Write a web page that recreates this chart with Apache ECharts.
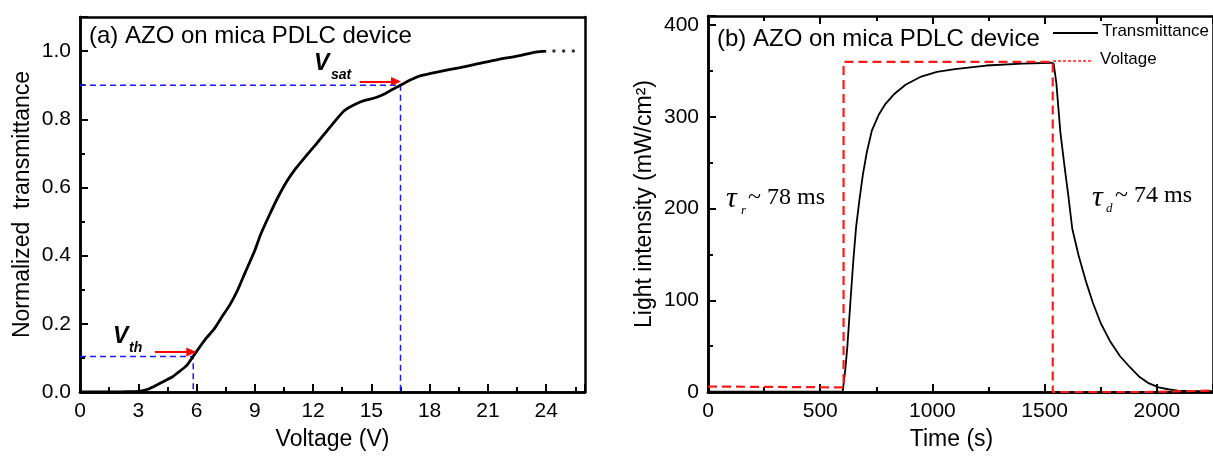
<!DOCTYPE html>
<html>
<head>
<meta charset="utf-8">
<title>AZO on mica PDLC device</title>
<script src="https://cdn.jsdelivr.net/npm/echarts@6/dist/echarts.min.js"></script>
<style>
  html, body { margin: 0; padding: 0; background: #fff; }
  #chart { width: 1213px; height: 456px; }
</style>
</head>
<body>
<div id="chart"></div>
<script>
// (a) voltage vs normalized transmittance
const voltage = [0, 1, 2, 2.5, 3, 3.5, 3.76, 4, 4.5, 4.75, 5, 5.5, 5.83, 6.2, 6.5, 6.91, 7.3, 7.7, 8.1, 8.5,
  9, 9.3, 9.8, 10.2, 10.65, 11.1, 11.6, 12.2, 12.8, 13.6, 14.2, 14.7, 15.2, 15.7, 16.1, 16.5, 17, 17.55,
  18.5, 19.5, 20.5, 21.5, 22.5, 23.46, 24];
const normTrans = [0, 0, 0, 0.001, 0.002, 0.008, 0.015, 0.022, 0.037, 0.044, 0.055, 0.078, 0.105, 0.135, 0.158, 0.185, 0.22, 0.254, 0.297, 0.35,
  0.415, 0.462, 0.525, 0.572, 0.618, 0.655, 0.69, 0.73, 0.772, 0.825, 0.845, 0.856, 0.863, 0.875, 0.888, 0.9, 0.915, 0.928,
  0.94, 0.951, 0.963, 0.975, 0.985, 0.997, 1.0];
const tailVoltage = [24.4, 24.9, 25.4];
const tailTrans = [1.0, 1.0, 1.0];
const vth = [5.83, 0.104];
const vsat = [16.5, 0.9];
const xTicksA = { min: 0, max: 26, interval: 3 };
const yTicksA = { min: 0, max: 1.1, interval: 0.2 };

// (b) time response
const timeT = [0, 300, 600, 604, 612, 621, 635, 648, 660, 675, 690, 708, 730, 760, 790, 830, 880, 950, 1020, 1100,
  1240, 1400, 1530, 1540, 1552, 1570, 1590, 1605, 1623, 1650, 1682, 1715, 1750, 1790, 1836, 1880, 1920, 1960,
  2008, 2050, 2093, 2150, 2250];
const transT = [0.5, 0.5, 0.5, 1, 25, 50, 100, 145, 180, 210, 237, 262, 285, 302, 314, 325, 335, 344, 349, 352,
  356, 358, 359, 358, 337, 283, 243, 215, 178, 150, 122, 97, 75, 56, 39, 27, 17, 10,
  5, 3, 1.5, 1, 1];
const voltT = [0, 604, 604, 1536, 1536, 1950, 2250];
const voltV = [6, 5, 360, 360, 0, 0, 1.5];
const xTicksB = { min: 0, max: 2250, interval: 500 };
const yTicksB = { min: 0, max: 410, interval: 100 };

const zip = (a, b) => a.map((v, i) => [v, b[i]]);

const SANS = '"Liberation Sans", Arial, sans-serif';
const SERIF = '"Liberation Serif", "Times New Roman", serif';
const frame = { show: true, onZero: false, lineStyle: { color: '#000', width: 2.5 } };
const label = { color: '#000', fontFamily: SANS, fontSize: 21, margin: 9, showMaxLabel: false, formatter: v => String(v) };
const name = { color: '#000', fontFamily: SANS, fontSize: 23 };

// axis with the frame line, labels and name
function labelAxis(t, extra) {
  return Object.assign({
    type: 'value', min: t.min, max: t.max, interval: t.interval,
    axisLine: frame, splitLine: { show: false },
    axisTick: { show: false }, minorTick: { show: false },
    axisLabel: label, nameLocation: 'middle', nameTextStyle: name
  }, extra);
}
// frame line + inward major/minor ticks, no labels (same setup as the top axis of panel b)
function tickAxis(t, extra) {
  return Object.assign({
    type: 'value', min: t.min, max: t.max, interval: t.interval,
    axisLine: frame, splitLine: { show: false }, axisLabel: { show: false },
    axisTick: { show: true, inside: true, length: 8, lineStyle: { color: '#000', width: 2 } },
    minorTick: { show: true, splitNumber: 2, length: 5, lineStyle: { color: '#000', width: 2 } }
  }, extra);
}
function plainAxis(t, extra) {
  return Object.assign({
    type: 'value', min: t.min, max: t.max,
    axisLine: frame, axisTick: { show: false }, axisLabel: { show: false }, splitLine: { show: false }
  }, extra);
}

let myChart = echarts.init(document.getElementById('chart'));
myChart.setOption({
  animation: false,
  backgroundColor: '#fff',
  grid: [
    { left: 80, top: 17, width: 505, height: 376 },
    { left: 708, top: 16, width: 515, height: 377 }
  ],
  xAxis: [
    labelAxis(xTicksA, { gridIndex: 0, position: 'bottom', name: 'Voltage (V)', nameGap: 36 }),
    plainAxis(xTicksA, { gridIndex: 0, position: 'top' }),
    labelAxis(xTicksB, { gridIndex: 1, position: 'bottom', name: 'Time (s)', nameGap: 36,
      nameTextStyle: Object.assign({ padding: [0, 18, 0, 0] }, name) }),
    tickAxis(xTicksB, { gridIndex: 1, position: 'top' }),
    tickAxis(xTicksA, { gridIndex: 0, position: 'bottom' }),
    tickAxis(xTicksB, { gridIndex: 1, position: 'bottom' })
  ],
  yAxis: [
    labelAxis(yTicksA, { gridIndex: 0, position: 'left', name: 'Normalized  transmittance', nameGap: 46,
      axisLabel: Object.assign({}, label, { formatter: v => v.toFixed(1) }) }),
    plainAxis(yTicksA, { gridIndex: 0, position: 'right' }),
    labelAxis(yTicksB, { gridIndex: 1, position: 'left', name: 'Light intensity (mW/cm²)', nameGap: 52 }),
    plainAxis(yTicksB, { gridIndex: 1, position: 'right' }),
    tickAxis(yTicksA, { gridIndex: 0, position: 'left' }),
    tickAxis(yTicksB, { gridIndex: 1, position: 'left' })
  ],
  series: [
    {
      name: 'Vth guide', type: 'line', xAxisIndex: 0, yAxisIndex: 0, showSymbol: false, z: 1,
      data: [[0, vth[1]], vth, [vth[0], 0]],
      lineStyle: { color: '#1a1aff', width: 1.5, type: [6, 4] }
    },
    {
      name: 'Vsat guide', type: 'line', xAxisIndex: 0, yAxisIndex: 0, showSymbol: false, z: 1,
      data: [[0, vsat[1]], vsat, [vsat[0], 0]],
      lineStyle: { color: '#1a1aff', width: 1.5, type: [6, 4] }
    },
    {
      name: 'Transmittance (a)', type: 'line', xAxisIndex: 0, yAxisIndex: 0, showSymbol: false, z: 3,
      smooth: 0.2,
      data: zip(voltage, normTrans),
      lineStyle: { color: '#000', width: 2.8 },
      markLine: {
        silent: true, symbol: ['none', 'triangle'], symbolSize: [9, 10],
        label: { show: false },
        lineStyle: { color: '#ff0000', width: 2, type: 'solid' },
        data: [
          [{ coord: [3.86, 0.117] }, { coord: [5.73, 0.117] }],
          [{ coord: [14.4, 0.911] }, { coord: [16.27, 0.911] }]
        ]
      }
    },
    {
      name: 'tail', type: 'scatter', xAxisIndex: 0, yAxisIndex: 0, symbolSize: 3.5,
      data: zip(tailVoltage, tailTrans), itemStyle: { color: '#000' }
    },
    {
      name: 'Transmittance', type: 'line', xAxisIndex: 2, yAxisIndex: 2, showSymbol: false, z: 3,
      data: zip(timeT, transT),
      lineStyle: { color: '#000', width: 1.8 }
    },
    {
      name: 'Voltage', type: 'line', xAxisIndex: 2, yAxisIndex: 2, showSymbol: false, z: 4,
      data: zip(voltT, voltV),
      lineStyle: { color: '#ff1a1a', width: 2.2, type: [9, 5] }
    }
  ],
  graphic: [
    { type: 'text', left: 89, top: 24, style: { text: '(a) AZO on mica PDLC device', font: '24px ' + SANS, fill: '#000' } },
    { type: 'text', left: 717, top: 27, style: { text: '(b) AZO on mica PDLC device', font: '24px ' + SANS, fill: '#000' } },

    { type: 'text', left: 113, top: 325, style: { text: 'V', font: 'italic bold 23px ' + SANS, fill: '#000' } },
    { type: 'text', left: 129, top: 341, style: { text: 'th', font: 'italic bold 14px ' + SANS, fill: '#000' } },
    { type: 'text', left: 314, top: 52, style: { text: 'V', font: 'italic bold 23px ' + SANS, fill: '#000' } },
    { type: 'text', left: 331, top: 68, style: { text: 'sat', font: 'italic bold 14px ' + SANS, fill: '#000' } },

    { type: 'text', left: 726, top: 184, style: { text: 'τ', font: 'italic 30px ' + SERIF, fill: '#000' } },
    { type: 'text', left: 741, top: 204, style: { text: 'r', font: 'italic 13px ' + SERIF, fill: '#000' } },
    { type: 'text', left: 748, top: 186, style: { text: '~ 78 ms', font: '24px ' + SERIF, fill: '#000' } },
    { type: 'text', left: 1092, top: 183, style: { text: 'τ', font: 'italic 30px ' + SERIF, fill: '#000' } },
    { type: 'text', left: 1106, top: 202, style: { text: 'd', font: 'italic 13px ' + SERIF, fill: '#000' } },
    { type: 'text', left: 1115, top: 184, style: { text: '~ 74 ms', font: '24px ' + SERIF, fill: '#000' } },

    { type: 'line', shape: { x1: 1053, y1: 33, x2: 1098, y2: 33 }, style: { stroke: '#000', lineWidth: 2 } },
    { type: 'text', left: 1102, top: 23, style: { text: 'Transmittance', font: '17px ' + SANS, fill: '#000' } },
    { type: 'line', shape: { x1: 1053, y1: 61, x2: 1093, y2: 61 }, style: { stroke: '#ff1a1a', lineWidth: 1.5, lineDash: [3, 2] } },
    { type: 'text', left: 1100, top: 51, style: { text: 'Voltage', font: '17px ' + SANS, fill: '#000' } }
  ]
});
</script>
</body>
</html>
